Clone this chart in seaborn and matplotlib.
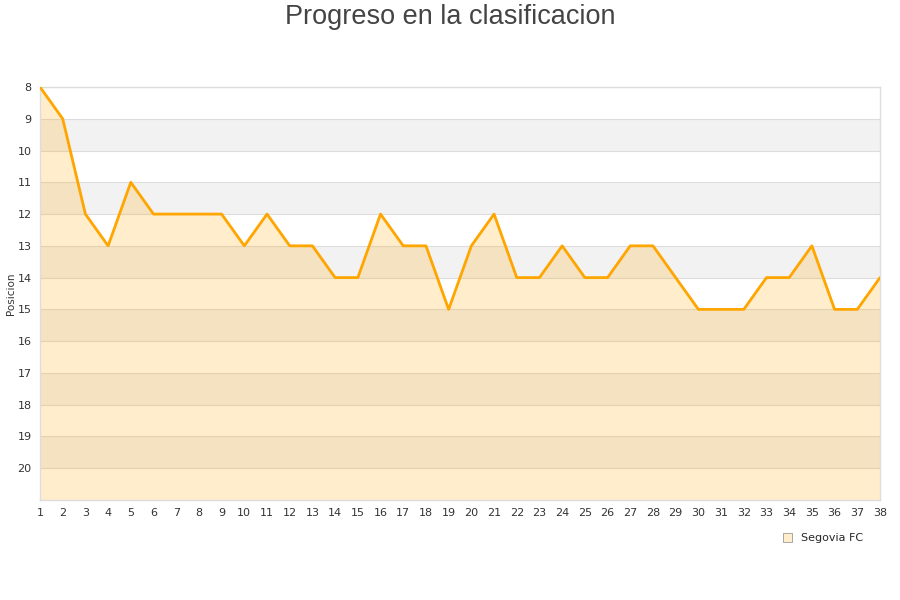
import pandas as pd
import matplotlib
matplotlib.use("Agg")
import matplotlib.pyplot as plt
import seaborn as sns
from matplotlib.patches import Patch

sns.set_theme(style="white")

# matchday -> league position
jornadas = list(range(1, 39))
posicion = [8, 9, 12, 13, 11, 12, 12, 12, 12, 13,
            12, 13, 13, 14, 14, 12, 13, 13, 15, 13,
            12, 14, 14, 13, 14, 14, 13, 13, 14, 15,
            15, 15, 14, 14, 13, 15, 15, 14]
equipo = "Segovia FC"

df = pd.DataFrame({"Jornada": jornadas, "Posicion": posicion})

fig = plt.figure(figsize=(9, 6), dpi=100)
ax = fig.add_axes([40 / 900, 100 / 600, 840 / 900, 413 / 600])

# alternating bands
for y0 in range(9, 21, 2):
    ax.axhspan(y0, y0 + 1, color="#F2F2F2", zorder=0, lw=0)
for y in range(8, 21):
    ax.axhline(y, color="#DDDDDD", lw=0.8, zorder=1)

ax.fill_between(df["Jornada"], df["Posicion"], 21, color="#FFA500", alpha=0.2, lw=0, zorder=2)
sns.lineplot(data=df, x="Jornada", y="Posicion", color="#FFA500", lw=2, ax=ax, zorder=3)

ax.set_xlim(1, 38)
ax.set_ylim(21, 8)
ax.set_xticks(jornadas)
ax.set_yticks(range(8, 21))
ax.tick_params(axis="both", labelsize=8, colors="#333333", length=0, pad=6)
ax.set_xlabel("")
ax.set_ylabel("Posicion", fontsize=7.5, color="#333333", labelpad=1)
for s in ax.spines.values():
    s.set_color("#DDDDDD")
    s.set_linewidth(1)

fig.suptitle("Progreso en la clasificacion", fontsize=19.5, color="#444444", y=0.993,
             fontfamily="Liberation Sans")

handle = Patch(facecolor="#FFEDCC", edgecolor="#999999", lw=0.6)
fig.legend([handle], [equipo], loc="center right", bbox_to_anchor=(0.97, 0.103),
           frameon=False, fontsize=8, handlelength=0.8, handleheight=0.8, handletextpad=0.8)

fig.savefig("out.png", dpi=100)
